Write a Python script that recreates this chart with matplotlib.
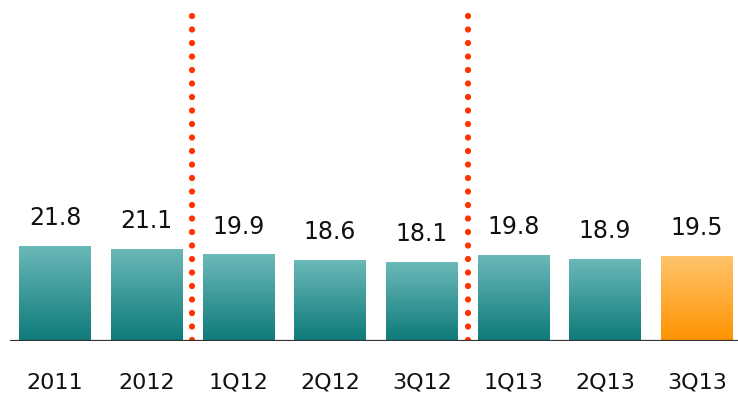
import numpy as np
import matplotlib.pyplot as plt
from matplotlib.colors import LinearSegmentedColormap

# data
periods = ["2011", "2012", "1Q12", "2Q12", "3Q12", "1Q13", "2Q13", "3Q13"]
values = [21.8, 21.1, 19.9, 18.6, 18.1, 19.8, 18.9, 19.5]
divider_after = [1, 4]  # dotted separator after these bar indices

teal = LinearSegmentedColormap.from_list("teal", ["#0d7a79", "#6cb9b9"])
orange = LinearSegmentedColormap.from_list("orange", ["#ff9300", "#ffc46c"])

plt.rcParams['font.family'] = ['DejaVu Sans']

fig = plt.figure(figsize=(7.38, 3.94), dpi=100)
ax = fig.add_axes([0.0136, 0.1345, 0.9864, 0.8655])

x = np.arange(len(values))
bars = ax.bar(x, values, width=0.78, facecolor="none", edgecolor="none")

# vertical gradient fill, clipped to each bar
grad = np.linspace(0, 1, 256).reshape(-1, 1)
for i, b in enumerate(bars):
    cmap = orange if i == len(bars) - 1 else teal
    x0, w, h = b.get_x(), b.get_width(), b.get_height()
    im = ax.imshow(grad, cmap=cmap, origin="lower", aspect="auto",
                   extent=[x0, x0 + w, 0, h], zorder=2)
    im.set_clip_path(b)
    ax.text(b.get_x() + w / 2, h + 3.6, f"{values[i]:.1f}", ha="center",
            va="bottom", fontsize=17, color="#111111")

# dotted separators, drawn top-down so the first dot sits at the top
for d in divider_after:
    ax.plot([d + 0.5, d + 0.5], [74.6, 0], color="#ff3300", lw=4.5,
            linestyle=(0, (0.01, 2.15)), dash_capstyle="round", zorder=3)

ax.axhline(0, color="#333333", lw=1.6, zorder=4)

ax.set_xlim(-0.49, 7.45)
ax.set_ylim(0, 78.2)
ax.set_xticks(x)
ax.set_xticklabels(periods, fontsize=16, color="#111111")
ax.tick_params(axis="x", length=0, pad=23)
ax.set_yticks([])
for s in ax.spines.values():
    s.set_visible(False)

fig.savefig("out.png", dpi=100)
